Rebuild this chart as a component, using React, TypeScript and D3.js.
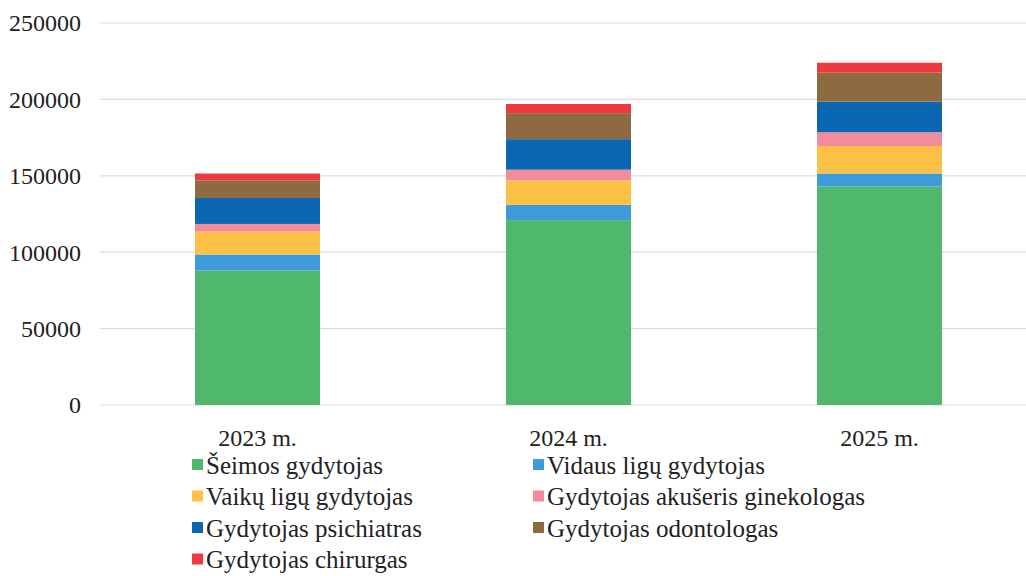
import React, { useEffect, useRef } from "react";
import * as d3 from "d3";

// data
const years = ["2023 m.", "2024 m.", "2025 m."];
const seriesNames = [
  "Šeimos gydytojas",
  "Vidaus ligų gydytojas",
  "Vaikų ligų gydytojas",
  "Gydytojas akušeris ginekologas",
  "Gydytojas psichiatras",
  "Gydytojas odontologas",
  "Gydytojas chirurgas",
];
const seimos = [88000, 121000, 143000];
const vidaus = [10500, 10000, 8500];
const vaiku = [15000, 16000, 18000];
const akuseris = [5000, 7000, 9000];
const psichiatras = [17000, 20000, 20000];
const odontologas = [11500, 17000, 19000];
const chirurgas = [4500, 6000, 6500];
const yTicks = [0, 50000, 100000, 150000, 200000, 250000];

const colors = ["#50b86c", "#3d9bd9", "#fdc245", "#f28b9c", "#0b67b1", "#8d6a40", "#ee3a3e"];

const W = 1026;
const H = 576;
const FONT = "Liberation Serif, Times New Roman, DejaVu Serif, serif";
const FS = 24;

const App = () => {
  const svgRef = useRef<SVGSVGElement | null>(null);

  useEffect(() => {
    const svg = d3.select(svgRef.current);
    svg.selectAll("*").remove();

    const values = [seimos, vidaus, vaiku, akuseris, psichiatras, odontologas, chirurgas];
    const rows = years.map((yr, i) => {
      const r: any = { year: yr };
      seriesNames.forEach((s, k) => (r[s] = values[k][i]));
      return r;
    });
    const stacked = d3.stack().keys(seriesNames)(rows);

    const y = d3.scaleLinear().domain([0, 250000]).range([405, 23]);
    const x = d3.scalePoint().domain(years).range([102, 1035]).padding(0.5);
    const barW = 125;

    // gridlines
    svg
      .append("g")
      .selectAll("line")
      .data(yTicks)
      .join("line")
      .attr("x1", 100)
      .attr("x2", W)
      .attr("y1", (d) => y(d))
      .attr("y2", (d) => y(d))
      .attr("stroke", "#dcdcdc")
      .attr("stroke-width", 1.2);

    // y labels
    svg
      .append("g")
      .selectAll("text")
      .data(yTicks)
      .join("text")
      .attr("x", 81)
      .attr("y", (d) => y(d))
      .attr("dy", "0.35em")
      .attr("text-anchor", "end")
      .attr("font-family", FONT)
      .attr("font-size", FS)
      .attr("fill", "#222")
      .text((d) => String(d));

    // bars
    svg
      .append("g")
      .selectAll("g")
      .data(stacked)
      .join("g")
      .attr("fill", (_d, i) => colors[i])
      .selectAll("rect")
      .data((d) => d)
      .join("rect")
      .attr("x", (d: any) => (x(d.data.year) as number) - barW / 2)
      .attr("y", (d) => y(d[1]))
      .attr("width", barW)
      .attr("height", (d) => y(d[0]) - y(d[1]));

    // x labels
    svg
      .append("g")
      .selectAll("text")
      .data(years)
      .join("text")
      .attr("x", (d) => x(d) as number)
      .attr("y", 446)
      .attr("text-anchor", "middle")
      .attr("font-family", FONT)
      .attr("font-size", FS)
      .attr("fill", "#222")
      .text((d) => d);

    // legend, two columns
    const leg = svg
      .append("g")
      .selectAll("g")
      .data(seriesNames)
      .join("g")
      .attr("transform", (_d, i) => {
        const col = i % 2;
        const row = Math.floor(i / 2);
        return `translate(${col === 0 ? 192 : 533},${465 + row * 31.5})`;
      });
    leg
      .append("rect")
      .attr("x", 0)
      .attr("y", -6)
      .attr("width", 11)
      .attr("height", 11)
      .attr("fill", (_d, i) => colors[i]);
    leg
      .append("text")
      .attr("x", 14)
      .attr("y", 0)
      .attr("dy", "0.35em")
      .attr("font-family", FONT)
      .attr("font-size", 25)
      .attr("fill", "#222")
      .text((d) => d);
  }, []);

  return (
    <svg
      ref={svgRef}
      width={W}
      height={H}
      style={{ position: "absolute", left: 0, top: 0, background: "#fff" }}
    />
  );
};

export default App;
